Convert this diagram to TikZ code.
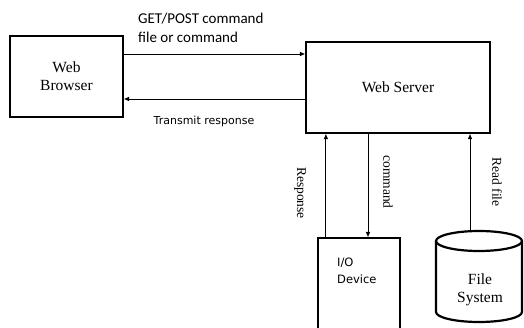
\documentclass[tikz,border=0pt]{standalone}
\usepackage{fontspec}
\setmainfont{Liberation Serif}
\newfontfamily\calfont{Carlito}
\newfontfamily\verfont{DejaVu Sans}
\usepackage{tikz}
\usetikzlibrary{arrows.meta,positioning}

\begin{document}
\begin{tikzpicture}[x=1pt, y=1pt,
  box/.style={rectangle, draw, line width=2.2pt, align=center,
              font=\fontsize{15.5}{18}\selectfont},
  arrow/.style={-{Triangle[length=5pt,width=4pt]}, line width=0.9pt},
  lbl/.style={font=\calfont\fontsize{15}{19}\selectfont, align=left, inner sep=0pt},
  sidelbl/.style={font=\fontsize{13.5}{16}\selectfont, rotate=-90, inner sep=0pt}
]
\useasboundingbox (0,0) rectangle (524,327);
\clip (0,0) rectangle (524,327);
\node[box, minimum width=113pt, minimum height=81pt] (browser) at (66.5, 250.5)
  {Web\\Browser};
\node[box, minimum width=184pt, minimum height=91pt] (server) at (398, 239.5)
  {Web Server};
\node[box, minimum width=82pt, minimum height=99pt] (io) at (359, 39.5) {};
\node[font=\verfont\fontsize{11.5}{17}\selectfont, align=left, inner sep=0pt,
      anchor=north west] (iotext) at (337, 69) {I/O\\Device};
% file system drum
\draw[line width=2.2pt] (436,86) -- (436,15) arc[start angle=180, end angle=360,
  x radius=43, y radius=10] -- (522,86);
\draw[line width=2.2pt] (479,86) ellipse[x radius=43, y radius=10];
\coordinate (fstop) at (470,96.5);
\node[align=center, font=\fontsize{15.5}{18}\selectfont] (fs) at (480,37) {File\\System};
% browser <-> server
\draw[arrow] ([yshift=22.5pt]browser.east) -- ([yshift=22.5pt]browser.east -| server.west);
\draw[arrow] ([yshift=-22.5pt]browser.east -| server.west) -- ([yshift=-22.5pt]browser.east);
\node[lbl, anchor=south west] (getpost) at (138, 284)
  {GET/POST command\\file or command};
\node[font=\verfont\fontsize{11}{13}\selectfont, inner sep=0pt] (transmit) at (204, 206)
  {Transmit response};
% server <-> devices
\draw[arrow] ([xshift=9pt]io.north west) -- ([xshift=9pt]io.north west |- server.south);
\draw[arrow] ([xshift=9pt]io.north |- server.south) -- ([xshift=9pt]io.north);
\draw[arrow] (fstop) -- (fstop |- server.south);
\node[sidelbl] (resp) at (300, 134) {Response};
\node[sidelbl] (cmd) at (388, 145) {command};
\node[sidelbl] (readf) at (497, 145) {Read file};
\end{tikzpicture}
\end{document}
